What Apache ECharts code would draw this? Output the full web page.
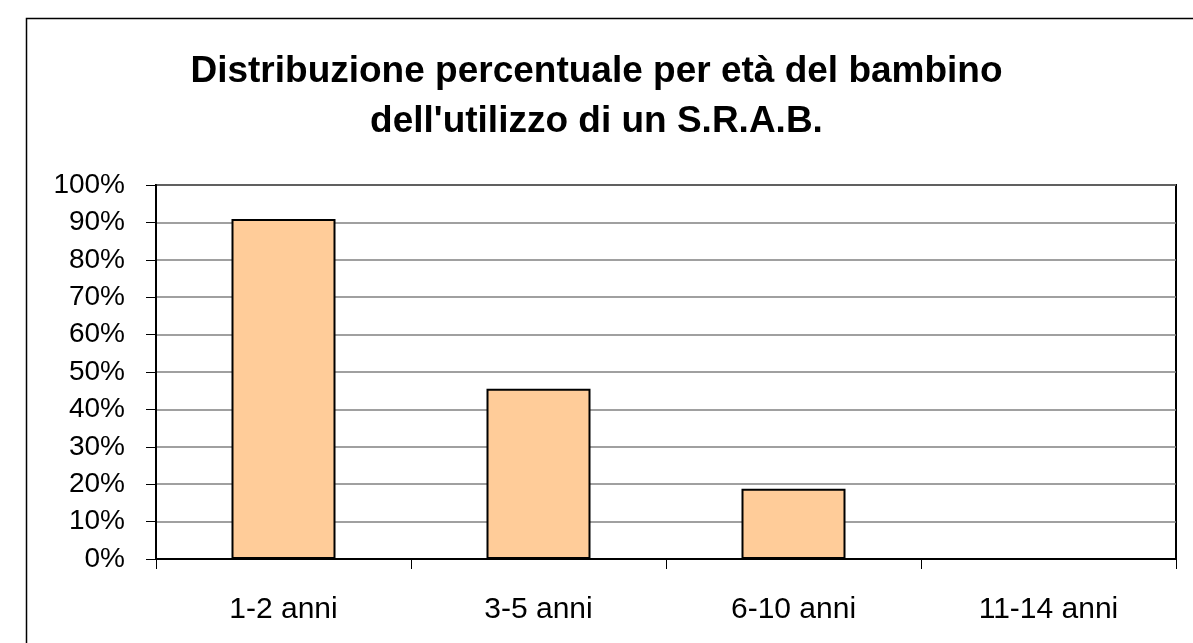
<!DOCTYPE html>
<html>
<head>
<meta charset="utf-8">
<title>Distribuzione percentuale per età del bambino</title>
<script src="https://cdn.jsdelivr.net/npm/echarts@6/dist/echarts.min.js"></script>
<style>
  html, body {
    margin: 0;
    padding: 0;
    background: #fff;
  }
  #myChart {
    width: 1193px;
    height: 643px;
  }
</style>
</head>
<body>
<div id="myChart"></div>
<script>
// categorie (età del bambino) e percentuali
var categories = ["1-2 anni", "3-5 anni", "6-10 anni", "11-14 anni"];
var percentValues = [90.9, 45.5, 18.8, 0];
var yTicks = { min: 0, max: 100, interval: 10 };

var fontFamily = "'Liberation Sans', Arial, sans-serif";

var chart = echarts.init(document.getElementById("myChart"));

var option = {
  animation: false,
  backgroundColor: "#fff",
  title: {
    text: "Distribuzione percentuale per età del bambino\ndell'utilizzo di un S.R.A.B.",
    left: "center",
    top: 47,
    padding: 0,
    textStyle: {
      fontFamily: fontFamily,
      fontSize: 37,
      fontWeight: "bold",
      color: "#000",
      lineHeight: 50,
      align: "center",
    },
  },
  // cornice esterna (solo bordo sinistro e superiore visibili)
  graphic: [
    {
      type: "rect",
      shape: { x: 26.5, y: 18.5, width: 2000, height: 2000 },
      style: { fill: "none", stroke: "#000", lineWidth: 1.5 },
      silent: true,
    },
  ],
  grid: {
    left: 156,
    right: 17,
    top: 185,
    bottom: 84,
    show: true,
    borderColor: "#000",
    borderWidth: 2,
    containLabel: false,
  },
  xAxis: {
    type: "category",
    data: categories,
    boundaryGap: true,
    axisLine: { lineStyle: { color: "#000", width: 2 } },
    axisTick: {
      show: true,
      length: 10,
      lineStyle: { color: "#000", width: 1 },
    },
    axisLabel: {
      margin: 36,
      fontFamily: fontFamily,
      fontSize: 30,
      color: "#000",
    },
  },
  yAxis: {
    type: "value",
    min: yTicks.min,
    max: yTicks.max,
    interval: yTicks.interval,
    axisLine: { show: true, lineStyle: { color: "#000", width: 2 } },
    axisTick: {
      show: true,
      length: 10,
      lineStyle: { color: "#000", width: 1 },
    },
    splitLine: { show: true, lineStyle: { color: "#808080", width: 1.5 } },
    axisLabel: {
      margin: 31,
      fontFamily: fontFamily,
      fontSize: 28,
      color: "#000",
      padding: [4, 0, 0, 0],
      formatter: "{value}%",
    },
  },
  series: [
    {
      type: "bar",
      data: percentValues,
      barWidth: 104,
      itemStyle: {
        color: "#FFCC99",
        borderColor: "#000",
        borderWidth: 2,
      },
    },
  ],
};

chart.setOption(option);
</script>
</body>
</html>
